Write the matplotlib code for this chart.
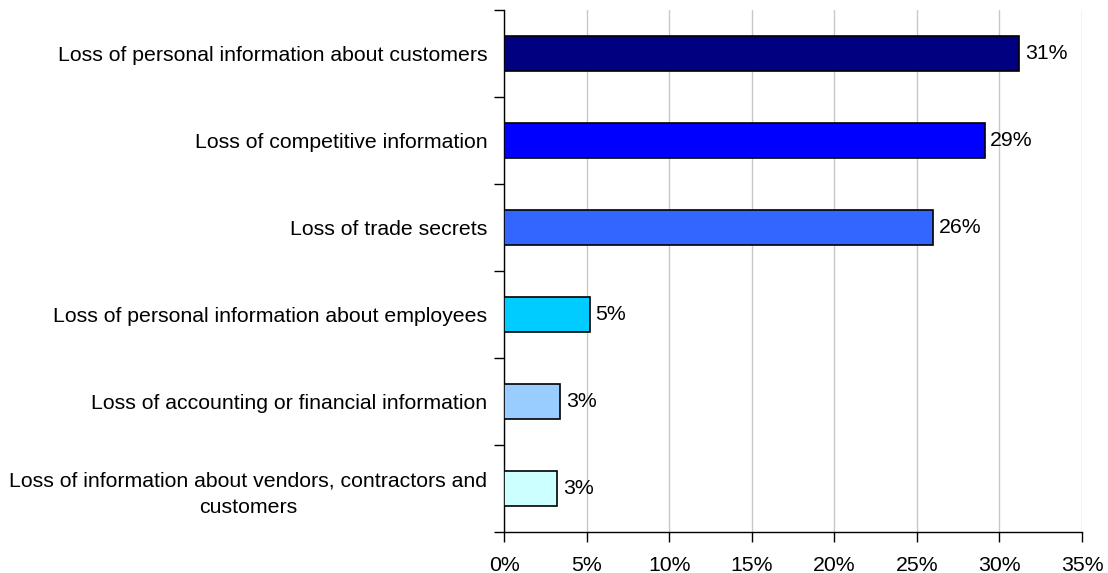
import matplotlib
matplotlib.use("Agg")
import matplotlib.pyplot as plt
from matplotlib.ticker import MultipleLocator, FuncFormatter

categories = [
    "Loss of personal information about customers",
    "Loss of competitive information",
    "Loss of trade secrets",
    "Loss of personal information about employees",
    "Loss of accounting or financial information",
    "Loss of information about vendors, contractors and\ncustomers",
]
values = [31.2, 29.1, 26.0, 5.2, 3.4, 3.2]
value_labels = ["31%", "29%", "26%", "5%", "3%", "3%"]
colors = ["#000080", "#0000FF", "#3366FF", "#00CCFF", "#99CCFF", "#CCFFFF"]

plt.rcParams["font.family"] = ["Liberation Sans", "DejaVu Sans"]
FS = 15.3

fig = plt.figure(figsize=(11.08, 5.73), dpi=100)
ax = fig.add_axes([504 / 1108, 1 - 532 / 573, (1082 - 504) / 1108, (532 - 10) / 573])

pos = list(range(len(categories)))
ax.barh(pos, values, height=0.41, color=colors, edgecolor="black", linewidth=1.2, zorder=3)

for y, v, lab in zip(pos, values, value_labels):
    ax.text(v + 0.35, y, lab, va="center", ha="left", fontsize=FS, color="black", zorder=4)

ax.set_xlim(0, 35)
ax.set_ylim(len(categories) - 0.5, -0.5)

ax.xaxis.set_major_locator(MultipleLocator(5))
ax.xaxis.set_major_formatter(FuncFormatter(lambda x, p: f"{x:.0f}%"))
ax.grid(axis="x", color="#c8c8c8", linewidth=1.0, zorder=0)
ax.tick_params(axis="x", direction="out", length=7, width=1, color="black",
               labelsize=FS, pad=10)

ax.set_yticks(pos)
ax.set_yticklabels(categories, fontsize=FS, multialignment="center", linespacing=1.5)
ax.tick_params(axis="y", which="major", length=0, pad=12)
ax.set_yticks([p - 0.5 for p in pos] + [len(pos) - 0.5], minor=True)
ax.tick_params(axis="y", which="minor", direction="out", length=7, width=1, color="black")

for side in ("top", "right"):
    ax.spines[side].set_visible(False)
ax.spines["left"].set_color("black")
ax.spines["bottom"].set_color("black")
ax.spines["left"].set_linewidth(1)
ax.spines["bottom"].set_linewidth(1)

fig.savefig("out.png", dpi=100, facecolor="white")
